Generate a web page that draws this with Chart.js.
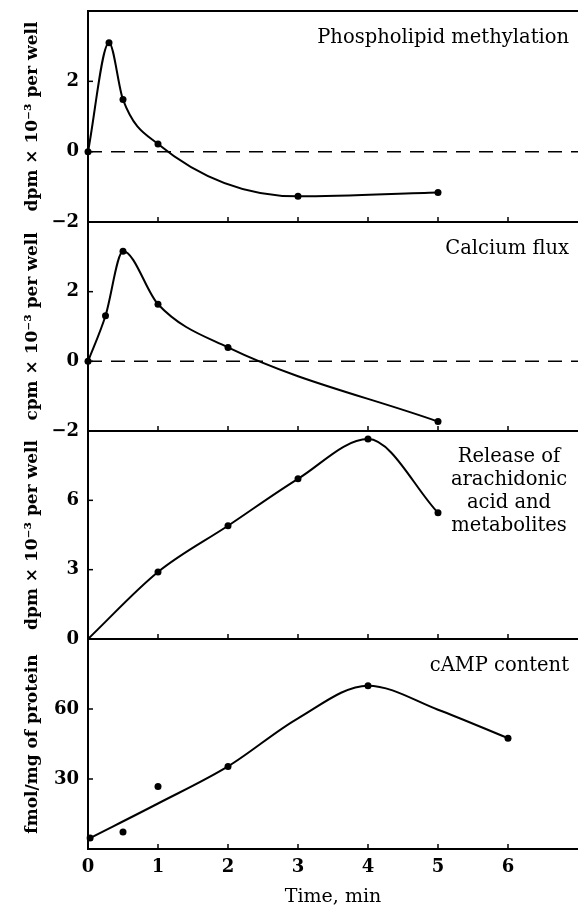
<!DOCTYPE html>
<html>
<head>
<meta charset="utf-8">
<script src="https://cdn.jsdelivr.net/npm/chart.js@4"></script>
<style>
  html, body { margin: 0; padding: 0; background: #fff; }
</style>
</head>
<body>
<canvas id="chart" width="578" height="909"></canvas>
<script>
// Ось времени, мин
const timeTicks = [0, 1, 2, 3, 4, 5, 6];

// Метилирование фосфолипидов, dpm x 10^-3 на лунку
const methylTime = [0, 0.3, 0.5, 1, 3, 5];
const methylVals = [0, 3.1, 1.48, 0.22, -1.27, -1.16];
const methylTicks = [-2, 0, 2];

// Поток кальция, cpm x 10^-3 на лунку
const calciumTime = [0, 0.25, 0.5, 1, 2, 5];
const calciumVals = [0, 1.31, 3.16, 1.64, 0.4, -1.73];
const calciumTicks = [-2, 0, 2];

// Арахидоновая кислота и метаболиты
const arachTime = [0, 1, 2, 3, 4, 5];
const arachVals = [0, 2.9, 4.9, 6.93, 8.65, 5.46];
const arachTicks = [0, 3, 6];

// cAMP: измерения и сглаженная кривая
const campTime = [0.03, 0.5, 1, 2, 4, 6];
const campVals = [4.7, 7.3, 26.8, 35.4, 70, 47.5];
const campCurveTime = [0.03, 1, 2, 3, 4, 5, 6];
const campCurveVals = [4.7, 19.5, 35.4, 56, 70, 59.7, 47.5];
const campTicks = [30, 60];

// Нулевая линия
const zeroLine = [0, 7];

const panelTitles = [
  ['Phospholipid methylation'],
  ['Calcium flux'],
  ['Release of', 'arachidonic', 'acid and', 'metabolites'],
  ['cAMP content']
];
const panelIds = ['yMethyl', 'yCalcium', 'yArach', 'yCamp'];

const serif = '"DejaVu Serif", serif';
const tickFont = { family: serif, size: 18, weight: 'bold' };
const titleFont = { family: serif, size: 17, weight: 'bold' };

function pts(xs, ys) {
  return xs.map((x, i) => ({ x: x, y: ys[i] }));
}

function minusSign(v) {
  return String(v).replace('-', '\u2212');
}

function panelAxis(min, max, ticks, title, weight, stackWeight) {
  return {
    type: 'linear',
    position: 'left',
    stack: 'panels',
    stackWeight: stackWeight,
    weight: weight,
    min: min,
    max: max,
    afterBuildTicks: s => { s.ticks = ticks.map(v => ({ value: v })); },
    afterFit: s => {
      s.width = 88;
      s.paddingTop = 0;
      s.paddingBottom = 0;
    },
    grid: { drawOnChartArea: false, drawTicks: false },
    border: { color: '#000', width: 2 },
    ticks: { color: '#000', font: tickFont, padding: 9, callback: minusSign },
    title: { display: true, text: title, color: '#000', font: titleFont, padding: { top: 22, bottom: 0 } }
  };
}

function curve(xs, ys, axis, radius) {
  return {
    data: pts(xs, ys),
    yAxisID: axis,
    showLine: true,
    borderColor: '#000',
    borderWidth: 2,
    pointRadius: radius,
    pointBackgroundColor: '#000',
    pointBorderWidth: 0,
    cubicInterpolationMode: 'monotone',
    clip: false
  };
}

function dashed(axis) {
  return {
    data: pts(zeroLine, [0, 0]),
    yAxisID: axis,
    showLine: true,
    borderColor: '#000',
    borderWidth: 1.5,
    borderDash: [14, 9],
    pointRadius: 0
  };
}

// Рамки панелей, внутренние засечки и подписи панелей
const panelFrame = {
  id: 'panelFrame',
  afterDraw(chart) {
    const ctx = chart.ctx;
    const area = chart.chartArea;
    const xs = chart.scales.x;
    ctx.save();
    ctx.strokeStyle = '#000';
    ctx.fillStyle = '#000';
    panelIds.forEach((id, k) => {
      const s = chart.scales[id];
      ctx.lineWidth = 2;
      ctx.beginPath();
      ctx.moveTo(area.left - 1, s.top);
      ctx.lineTo(area.right, s.top);
      ctx.stroke();
      ctx.lineWidth = 1.5;
      timeTicks.slice(1).forEach(t => {
        const px = xs.getPixelForValue(t);
        ctx.beginPath();
        ctx.moveTo(px, s.bottom);
        ctx.lineTo(px, s.bottom - 5);
        ctx.stroke();
      });
      s.ticks.forEach(t => {
        const py = s.getPixelForValue(t.value);
        ctx.beginPath();
        ctx.moveTo(area.left, py);
        ctx.lineTo(area.left + 5, py);
        ctx.stroke();
      });
      ctx.font = '19.5px ' + serif;
      ctx.textBaseline = 'middle';
      const lines = panelTitles[k];
      if (lines.length > 1) {
        ctx.textAlign = 'center';
        lines.forEach((l, i) => ctx.fillText(l, 509, s.top + 26 + i * 23));
      } else {
        ctx.textAlign = 'right';
        ctx.fillText(lines[0], area.right - 9, s.top + 27);
      }
    });
    ctx.restore();
  }
};

new Chart(document.getElementById('chart'), {
  type: 'scatter',
  data: {
    datasets: [
      dashed('yMethyl'),
      curve(methylTime, methylVals, 'yMethyl', 3.5),
      dashed('yCalcium'),
      curve(calciumTime, calciumVals, 'yCalcium', 3.5),
      curve(arachTime, arachVals, 'yArach', [0, 3.5, 3.5, 3.5, 3.5, 3.5]),
      curve(campCurveTime, campCurveVals, 'yCamp', 0),
      {
        data: pts(campTime, campVals),
        yAxisID: 'yCamp',
        showLine: false,
        pointRadius: 3.5,
        pointBackgroundColor: '#000',
        pointBorderWidth: 0,
        clip: false
      }
    ]
  },
  options: {
    responsive: false,
    devicePixelRatio: 1,
    animation: false,
    layout: { autoPadding: false, padding: { top: 11, left: 0, right: 0, bottom: 0 } },
    plugins: {
      legend: { display: false },
      tooltip: { enabled: false }
    },
    scales: {
      x: {
        type: 'linear',
        position: 'bottom',
        min: 0,
        max: 7,
        afterBuildTicks: s => { s.ticks = timeTicks.map(v => ({ value: v })); },
        afterFit: s => {
          s.height = 60;
          s.paddingLeft = 0;
          s.paddingRight = 0;
        },
        grid: { drawOnChartArea: false, drawTicks: false },
        border: { color: '#000', width: 2 },
        ticks: { color: '#000', font: tickFont, padding: 8 },
        title: {
          display: true,
          text: 'Time, min',
          color: '#000',
          font: { family: serif, size: 19 },
          padding: { top: 0, bottom: 1 }
        }
      },
      yMethyl: panelAxis(-2, 4, methylTicks, 'dpm \u00d7 10\u207b\u00b3 per well', 4, 211),
      yCalcium: panelAxis(-2, 4, calciumTicks, 'cpm \u00d7 10\u207b\u00b3 per well', 3, 209),
      yArach: panelAxis(0, 9, arachTicks, 'dpm \u00d7 10\u207b\u00b3 per well', 2, 208),
      yCamp: panelAxis(0, 90, campTicks, 'fmol/mg of protein', 1, 210)
    }
  },
  plugins: [panelFrame]
});
</script>
</body>
</html>
